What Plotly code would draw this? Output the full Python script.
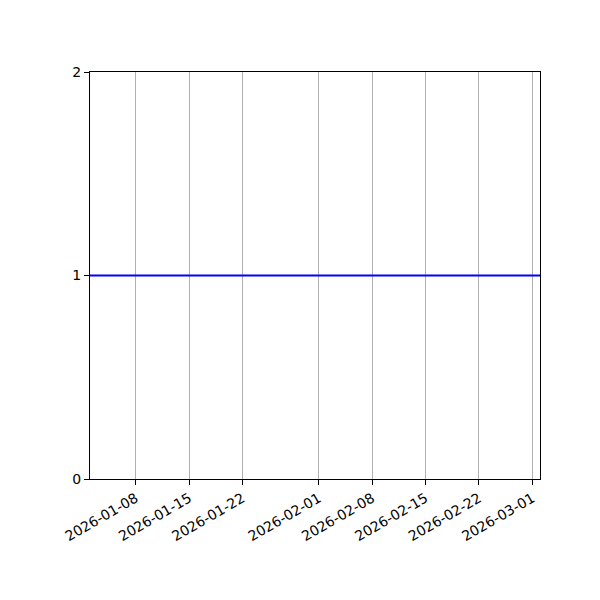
import plotly.graph_objects as go

# data
dates = ["2026-01-02", "2026-03-02"]
values = [1, 1]
tick_dates = ["2026-01-08", "2026-01-15", "2026-01-22", "2026-02-01",
              "2026-02-08", "2026-02-15", "2026-02-22", "2026-03-01"]
y_ticks = [0, 1, 2]

fig = go.Figure()
fig.add_trace(go.Scatter(x=dates, y=values, mode='lines',
                         line=dict(color='#0000ff', width=2), showlegend=False))

# page body adds ~8px offset, so margins are shifted to compensate
fig.update_layout(
    width=600, height=600,
    font=dict(family='DejaVu Sans', size=14, color='black'),
    plot_bgcolor='white', paper_bgcolor='white',
    margin=dict(l=82, r=68, t=64, b=129)
)
fig.update_xaxes(type='date', range=[dates[0], dates[-1]],
                 tickvals=tick_dates, ticktext=tick_dates, tickangle=-30,
                 showgrid=True, gridcolor='#b0b0b0', gridwidth=1,
                 showline=True, linecolor='black', linewidth=1, mirror=True,
                 ticks='outside', ticklen=5, tickcolor='black', zeroline=False)
fig.update_yaxes(range=[0, 2], tickvals=y_ticks, showgrid=False,
                 showline=True, linecolor='black', linewidth=1, mirror=True,
                 ticks='outside', ticklen=5, tickcolor='black', zeroline=False)

fig.write_html("out.html")
